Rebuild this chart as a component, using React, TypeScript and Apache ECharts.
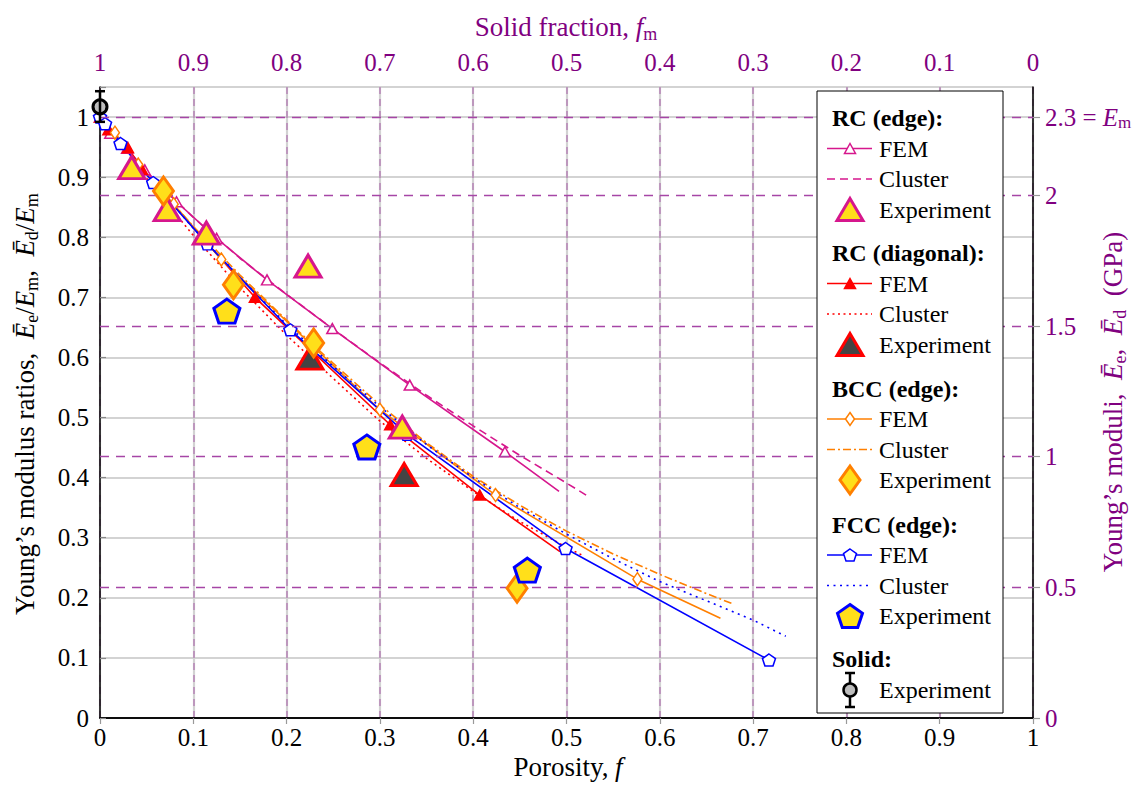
import React, { useEffect, useRef } from 'react';
import * as echarts from 'echarts';

// ---------- data ----------
const rcEdgeFemX = [0, 0.011, 0.029, 0.048, 0.082, 0.125, 0.179, 0.249, 0.332, 0.434, 0.492];
const rcEdgeFemY = [1.0, 0.973, 0.948, 0.912, 0.859, 0.798, 0.729, 0.648, 0.554, 0.443, 0.377];
const rcEdgeClX = [0, 0.05, 0.1, 0.15, 0.2, 0.25, 0.3, 0.35, 0.4, 0.45, 0.5, 0.522];
const rcEdgeClY = [1.0, 0.908, 0.833, 0.765, 0.705, 0.647, 0.591, 0.537, 0.486, 0.437, 0.391, 0.37];
const rcEdgeExpX = [0.034, 0.072, 0.114, 0.223, 0.324];
const rcEdgeExpY = [0.916, 0.846, 0.807, 0.752, 0.484];

const rcDiagFemX = [0, 0.009, 0.03, 0.045, 0.166, 0.311, 0.407, 0.493];
const rcDiagFemY = [1.0, 0.979, 0.949, 0.913, 0.7, 0.488, 0.371, 0.277];
const rcDiagClX = [0, 0.05, 0.1, 0.15, 0.2, 0.25, 0.3, 0.35, 0.4, 0.45, 0.5, 0.518];
const rcDiagClY = [1.0, 0.898, 0.803, 0.716, 0.637, 0.565, 0.494, 0.432, 0.377, 0.327, 0.284, 0.27];
const rcDiagExpX = [0.225, 0.326];
const rcDiagExpY = [0.599, 0.405];

const bccFemX = [0, 0.016, 0.041, 0.079, 0.13, 0.3, 0.424, 0.576, 0.665];
const bccFemY = [1.0, 0.974, 0.921, 0.855, 0.763, 0.513, 0.371, 0.231, 0.166];
const bccClX = [0, 0.05, 0.1, 0.15, 0.2, 0.25, 0.3, 0.35, 0.4, 0.45, 0.5, 0.55, 0.6, 0.65, 0.678];
const bccClY = [1.0, 0.905, 0.818, 0.737, 0.662, 0.59, 0.521, 0.458, 0.402, 0.354, 0.311, 0.273, 0.239, 0.207, 0.19];
const bccExpX = [0.068, 0.143, 0.229, 0.447];
const bccExpY = [0.877, 0.721, 0.624, 0.216];

const fccFemX = [0, 0.0054, 0.022, 0.057, 0.115, 0.204, 0.329, 0.499, 0.717];
const fccFemY = [1.0, 0.989, 0.956, 0.891, 0.789, 0.646, 0.472, 0.282, 0.0965];
const fccClX = [0, 0.05, 0.1, 0.15, 0.2, 0.25, 0.3, 0.35, 0.4, 0.45, 0.5, 0.55, 0.6, 0.65, 0.7, 0.735];
const fccClY = [1.0, 0.905, 0.815, 0.733, 0.655, 0.585, 0.518, 0.455, 0.4, 0.35, 0.306, 0.265, 0.227, 0.195, 0.163, 0.136];
const fccExpX = [0.136, 0.286, 0.458];
const fccExpY = [0.677, 0.451, 0.246];

const solidX = [0];
const solidY = [1.017];
const solidLo = [0.992];
const solidHi = [1.043];

const gpaTicks = [0, 0.5, 1, 1.5, 2, 2.3];
const E_M = 2.3;
const Y_MAX = 1.05;

// ---------- styles ----------
const F = "'Liberation Serif', 'Times New Roman', serif";
const PURPLE = '#800080';
const MAG = '#d6178d';
const RED = '#ff0000';
const ORANGE = '#ff7f00';
const BLUE = '#0000ff';
const YEL = '#ffdf1a';
const DARK = '#444444';
const PENT = 'path://M0,-10L9.511,-3.09L5.878,8.09L-5.878,8.09L-9.511,-3.09Z';

const DASH_MAG = [8, 5];
const DOT_RED = [2, 3.5];
const DASHDOT_OR = [8, 3, 2, 3];
const DOT_BLUE = [2, 4.5];

const TICK_FS = 25;
const TITLE_FS = 27;
const LEG_FS = 24;

function pts(xs: number[], ys: number[], lastNoMarker = false) {
  return xs.map((x, i) =>
    lastNoMarker && i === xs.length - 1 ? { value: [x, ys[i]], symbol: 'none' } : [x, ys[i]]
  );
}

function femSeries(xs: number[], ys: number[], color: string, symbol: string, size: any, filled: boolean, lastNoMarker: boolean) {
  return {
    type: 'line',
    data: pts(xs, ys, lastNoMarker),
    symbol,
    symbolSize: size,
    showSymbol: true,
    clip: false,
    lineStyle: { color, width: 1.6 },
    itemStyle: { color: filled ? color : '#ffffff', borderColor: color, borderWidth: 1.5 },
    z: 3,
  };
}

function clusterSeries(xs: number[], ys: number[], color: string, dash: number[]) {
  return {
    type: 'line',
    data: pts(xs, ys),
    symbol: 'none',
    clip: false,
    lineStyle: { color, width: 1.6, type: dash },
    z: 3,
  };
}

function expSeries(xs: number[], ys: number[], symbol: string, size: any, fill: string, border: string) {
  return {
    type: 'scatter',
    data: pts(xs, ys),
    symbol,
    symbolSize: size,
    clip: false,
    itemStyle: { color: fill, borderColor: border, borderWidth: 3, opacity: 1 },
    z: 5,
  };
}

function richStyles(color: string, fs: number) {
  return {
    a: { fontFamily: F, fontSize: fs, fill: color, color, lineHeight: fs + 4 },
    i: { fontFamily: F, fontSize: fs, fontStyle: 'italic', fill: color, color, lineHeight: fs + 4 },
    s: { fontFamily: F, fontSize: Math.round(fs * 0.68), fill: color, color, lineHeight: 12, verticalAlign: 'bottom' },
  };
}

// ---------- legend graphics ----------
function markerShape(kind: string, cx: number, cy: number, w: number, h: number, fill: string, stroke: string, lw: number) {
  let points: number[][] = [];
  if (kind === 'triangle') {
    points = [[cx, cy - h / 2], [cx + w / 2, cy + h / 2], [cx - w / 2, cy + h / 2]];
  } else if (kind === 'diamond') {
    points = [[cx, cy - h / 2], [cx + w / 2, cy], [cx, cy + h / 2], [cx - w / 2, cy]];
  } else {
    const base = [[0, -10], [9.511, -3.09], [5.878, 8.09], [-5.878, 8.09], [-9.511, -3.09]];
    points = base.map(([px, py]) => [cx + (px / 19.022) * w, cy + ((py + 0.955) / 18.09) * h]);
  }
  return { type: 'polygon', z: 101, shape: { points }, style: { fill, stroke, lineWidth: lw } };
}

function legendGraphics() {
  const els: any[] = [];
  els.push({
    type: 'rect', z: 100,
    shape: { x: 817, y: 91, width: 186, height: 622 },
    style: { fill: '#ffffff', stroke: '#000000', lineWidth: 1 },
  });
  const groups = [
    { title: 'RC (edge):', y: 118, color: MAG, kind: 'triangle', femFill: '#ffffff', femSize: [11, 10], dash: DASH_MAG, expFill: YEL, expBorder: MAG, expSize: [26, 22] },
    { title: 'RC (diagonal):', y: 253, color: RED, kind: 'triangle', femFill: RED, femSize: [11, 10], dash: DOT_RED, expFill: DARK, expBorder: RED, expSize: [26, 22] },
    { title: 'BCC (edge):', y: 388.5, color: ORANGE, kind: 'diamond', femFill: '#ffffff', femSize: [9, 13], dash: DASHDOT_OR, expFill: YEL, expBorder: ORANGE, expSize: [20, 28] },
    { title: 'FCC (edge):', y: 524.5, color: BLUE, kind: 'pentagon', femFill: '#ffffff', femSize: [13, 12], dash: DOT_BLUE, expFill: YEL, expBorder: BLUE, expSize: [25, 23] },
  ];
  const txt = (text: string, x: number, y: number, bold = false) => ({
    type: 'text', z: 101, x, y,
    style: {
      text, x: 0, y: 0, fill: '#000', fontFamily: F, fontSize: LEG_FS, fontWeight: bold ? 'bold' : 'normal',
      verticalAlign: 'middle', textVerticalAlign: 'middle', align: 'left', textAlign: 'left',
    },
  });
  for (const g of groups) {
    els.push(txt(g.title, 832, g.y, true));
    const yF = g.y + 30.5;
    const yC = g.y + 61;
    const yE = g.y + 91.5;
    els.push({ type: 'line', z: 101, shape: { x1: 827, y1: yF, x2: 872, y2: yF }, style: { stroke: g.color, lineWidth: 1.6 } });
    els.push(markerShape(g.kind, 850, yF, g.femSize[0], g.femSize[1], g.femFill, g.color, 1.5));
    els.push(txt('FEM', 879, yF));
    els.push({ type: 'line', z: 101, shape: { x1: 827, y1: yC, x2: 872, y2: yC }, style: { stroke: g.color, lineWidth: 1.6, lineDash: g.dash } });
    els.push(txt('Cluster', 879, yC));
    els.push(markerShape(g.kind, 850, yE, g.expSize[0], g.expSize[1], g.expFill, g.expBorder, 3));
    els.push(txt('Experiment', 879, yE));
  }
  els.push(txt('Solid:', 832, 658.5, true));
  const ys = 690;
  els.push({ type: 'line', z: 101, shape: { x1: 850, y1: ys - 17, x2: 850, y2: ys + 17 }, style: { stroke: '#000', lineWidth: 2.5 } });
  els.push({ type: 'line', z: 101, shape: { x1: 845, y1: ys - 17, x2: 855, y2: ys - 17 }, style: { stroke: '#000', lineWidth: 2.5 } });
  els.push({ type: 'line', z: 101, shape: { x1: 845, y1: ys + 17, x2: 855, y2: ys + 17 }, style: { stroke: '#000', lineWidth: 2.5 } });
  els.push({ type: 'circle', z: 102, shape: { cx: 850, cy: ys, r: 6.5 }, style: { fill: '#bdbdbd', stroke: '#000', lineWidth: 2.5 } });
  els.push(txt('Experiment', 879, ys));
  return els;
}

function titleGraphics() {
  const mk = (text: string, x: number, y: number, color: string, rotation = 0) => ({
    type: 'text', z: 50, x, y, rotation,
    style: {
      text, x: 0, y: 0, rich: richStyles(color, TITLE_FS), fill: color, fontFamily: F, fontSize: TITLE_FS,
      align: 'center', textAlign: 'center', verticalAlign: 'middle', textVerticalAlign: 'middle',
    },
  });
  return [
    mk('{a|Porosity, }{i|f}', 568, 767, '#000'),
    mk('{a|Solid fraction, }{i|f}{s|m}', 566, 27, PURPLE),
    mk('{a|Young’s modulus ratios,  }{i|Ē}{s|e}{a|/}{i|E}{s|m}{a|,  }{i|Ē}{s|d}{a|/}{i|E}{s|m}', 25, 404, '#000', Math.PI / 2),
    mk('{a|Young’s moduli,  }{i|Ē}{s|e}{a|,  }{i|Ē}{s|d}{a|  (GPa)}', 1113, 402, PURPLE, Math.PI / 2),
  ];
}

function fmt1(v: number) {
  return String(Number(v.toFixed(1)));
}

function buildOption(): any {
  const labelBase = { fontFamily: F, fontSize: TICK_FS };
  return {
    animation: false,
    backgroundColor: '#ffffff',
    grid: { left: 100, right: 115, top: 87, bottom: 68, containLabel: false },
    xAxis: [
      {
        type: 'value', position: 'bottom', min: 0, max: 1, interval: 0.1,
        axisLine: { show: true, lineStyle: { color: '#000', width: 1.5 } },
        axisTick: { show: false },
        axisLabel: { ...labelBase, color: '#000', margin: 7, formatter: (v: number) => fmt1(v) },
        splitLine: { show: true, lineStyle: { color: '#d2d2d2', width: 2.2 } },
      },
      {
        type: 'value', position: 'top', min: 0, max: 1, interval: 0.1, inverse: true,
        axisLine: { show: true, lineStyle: { color: '#000', width: 1.5 } },
        axisTick: { show: true, inside: true, length: 6, lineStyle: { color: '#999', width: 1.2 } },
        axisLabel: { ...labelBase, color: PURPLE, margin: 12, formatter: (v: number) => fmt1(v) },
        splitLine: { show: true, lineStyle: { color: '#b889b8', width: 1.6, type: [7, 5] } },
      },
    ],
    yAxis: [
      {
        type: 'value', position: 'left', min: 0, max: Y_MAX, interval: 0.1,
        axisLine: { show: true, lineStyle: { color: '#000', width: 1.5 } },
        axisTick: { show: true, inside: true, length: 6, lineStyle: { color: '#888', width: 1.2 } },
        axisLabel: {
          ...labelBase, color: '#000', margin: 11,
          formatter: (v: number) => (Math.abs(v * 10 - Math.round(v * 10)) < 1e-6 && v <= 1.0001 ? fmt1(v) : ''),
        },
        splitLine: { show: true, lineStyle: { color: '#c4c4c4', width: 1.5 } },
      },
      {
        type: 'value', position: 'right', min: 0, max: Y_MAX * E_M,
        axisLine: { show: true, lineStyle: { color: '#000', width: 1.5 } },
        axisTick: { show: true, customValues: gpaTicks, length: 7, lineStyle: { color: '#999', width: 1.2 } },
        axisLabel: {
          customValues: gpaTicks, margin: 12, color: PURPLE, fontFamily: F, fontSize: TICK_FS,
          formatter: (v: number) => (Math.abs(v - E_M) < 1e-9 ? '{n|2.3}{n| = }{i|E}{s|m}' : '{n|' + String(v) + '}'),
          rich: {
            n: { fontFamily: F, fontSize: TICK_FS, color: PURPLE, lineHeight: 28 },
            i: { fontFamily: F, fontSize: TICK_FS, fontStyle: 'italic', color: PURPLE, lineHeight: 28 },
            s: { fontFamily: F, fontSize: 17, color: PURPLE, lineHeight: 12, verticalAlign: 'bottom' },
          },
        },
        splitLine: { show: false },
      },
    ],
    graphic: [...titleGraphics(), ...legendGraphics()],
    series: [
      {
        type: 'line', xAxisIndex: 0, yAxisIndex: 1, data: [], symbol: 'none', z: 1,
        markLine: {
          silent: true, symbol: ['none', 'none'], label: { show: false }, animation: false,
          lineStyle: { color: '#a646a6', width: 1.4, type: [9, 7] },
          data: gpaTicks.filter((v) => v > 0).map((v) => ({ yAxis: v })),
        },
      },
      femSeries(rcEdgeFemX, rcEdgeFemY, MAG, 'triangle', [11, 10], false, true),
      clusterSeries(rcEdgeClX, rcEdgeClY, MAG, DASH_MAG),
      femSeries(rcDiagFemX, rcDiagFemY, RED, 'triangle', [11, 10], true, true),
      clusterSeries(rcDiagClX, rcDiagClY, RED, DOT_RED),
      femSeries(bccFemX, bccFemY, ORANGE, 'diamond', [9, 13], false, true),
      clusterSeries(bccClX, bccClY, ORANGE, DASHDOT_OR),
      femSeries(fccFemX, fccFemY, BLUE, PENT, [13, 12], false, false),
      clusterSeries(fccClX, fccClY, BLUE, DOT_BLUE),
      expSeries(rcEdgeExpX, rcEdgeExpY, 'triangle', [26, 22], YEL, MAG),
      expSeries(rcDiagExpX, rcDiagExpY, 'triangle', [26, 22], DARK, RED),
      expSeries(bccExpX, bccExpY, 'diamond', [20, 28], YEL, ORANGE),
      expSeries(fccExpX, fccExpY, PENT, [26, 24], YEL, BLUE),
      {
        type: 'custom', z: 6, clip: false,
        data: solidX.map((x, i) => [x, solidLo[i], solidHi[i]]),
        encode: { x: 0, y: [1, 2] },
        renderItem: (params: any, api: any) => {
          const x = api.value(0);
          const p1 = api.coord([x, api.value(1)]);
          const p2 = api.coord([x, api.value(2)]);
          const st = { stroke: '#000', lineWidth: 2.5 };
          return {
            type: 'group',
            children: [
              { type: 'line', shape: { x1: p1[0], y1: p1[1], x2: p2[0], y2: p2[1] }, style: st },
              { type: 'line', shape: { x1: p2[0] - 5, y1: p2[1], x2: p2[0] + 5, y2: p2[1] }, style: st },
              { type: 'line', shape: { x1: p1[0] - 5, y1: p1[1], x2: p1[0] + 5, y2: p1[1] }, style: st },
            ],
          };
        },
      },
      expSeries(solidX, solidY, 'circle', 14, '#bdbdbd', '#000'),
    ],
  };
}

export default function App() {
  const ref = useRef<HTMLDivElement>(null);
  useEffect(() => {
    if (!ref.current) return;
    const chart = echarts.init(ref.current, null, { renderer: 'svg' });
    chart.setOption(buildOption());
    return () => chart.dispose();
  }, []);
  return (
    <div
      ref={ref}
      style={{ position: 'fixed', left: 0, top: 0, width: 1148, height: 786, background: '#fff' }}
    />
  );
}
